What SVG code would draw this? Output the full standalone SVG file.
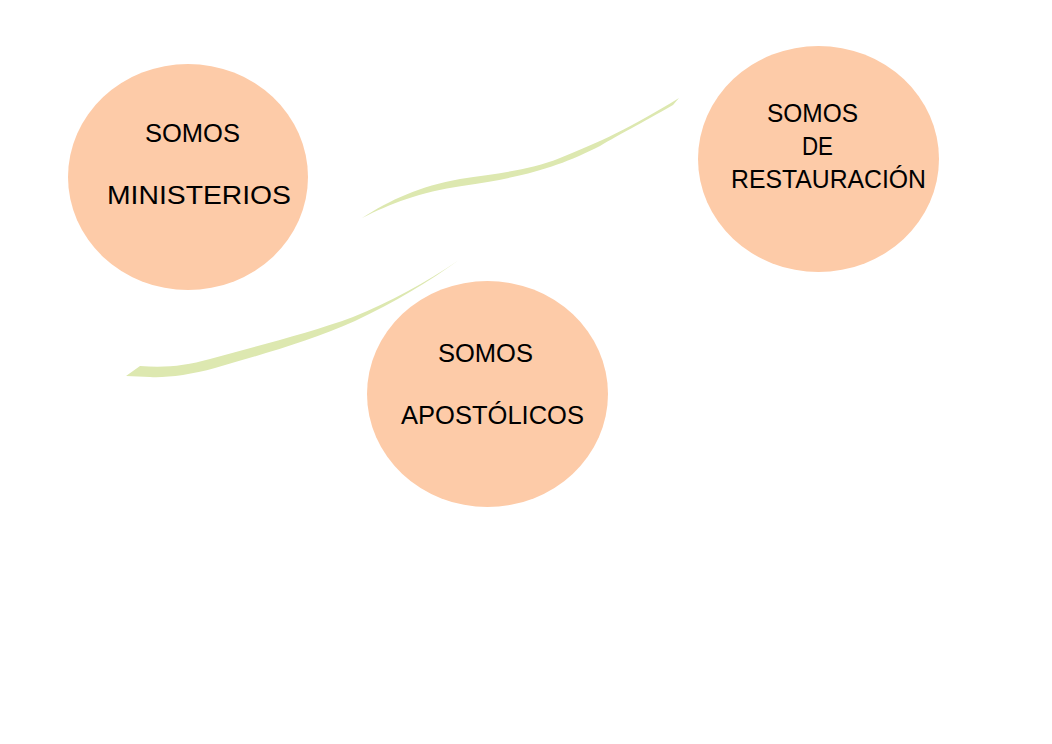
<svg xmlns="http://www.w3.org/2000/svg" width="1052" height="744" viewBox="0 0 1052 744">
<style>
.node{fill:#FDCBA8;}
.lbl{font-family:"Liberation Sans","DejaVu Sans",sans-serif;font-size:26px;fill:#000;}
.swash{fill:#DDE8B0;stroke:none;}
</style>
<rect width="1052" height="744" fill="#fff"/>
<g id="connectors">
<path class="swash" d="M362,218 C390,200 420,186 460,179 C500,173 530,170 560,158 C600,142 630,128 679,98 L673,105 C640,124 620,134 600,146 C560,166 530,176 462,186 C420,192 390,204 362,218 Z"/>
<path class="swash" d="M126,376 L140,366 C165,368 185,366 210,359 C260,345 310,333 353,317 C390,302 425,283 459,260 C430,281 395,302 355,321 C310,341 260,355 215,368 C190,375 165,378 150,377 Z"/>
</g>
<g id="node-ministerios">
<ellipse class="node" cx="188" cy="177" rx="120" ry="113"/>
<text class="lbl" x="145" y="142" textLength="95" lengthAdjust="spacingAndGlyphs">SOMOS</text>
<text class="lbl" x="107" y="204" textLength="184" lengthAdjust="spacingAndGlyphs">MINISTERIOS</text>
</g>
<g id="node-restauracion">
<ellipse class="node" cx="818.5" cy="159" rx="120.5" ry="113"/>
<text class="lbl" x="767" y="122" textLength="91" lengthAdjust="spacingAndGlyphs">SOMOS</text>
<text class="lbl" x="802" y="155" textLength="31" lengthAdjust="spacingAndGlyphs">DE</text>
<text class="lbl" x="731" y="188" textLength="195" lengthAdjust="spacingAndGlyphs">RESTAURACIÓN</text>
</g>
<g id="node-apostolicos">
<ellipse class="node" cx="487.5" cy="394" rx="120.5" ry="113"/>
<text class="lbl" x="438" y="362" textLength="95" lengthAdjust="spacingAndGlyphs">SOMOS</text>
<text class="lbl" x="401" y="424" textLength="183" lengthAdjust="spacingAndGlyphs">APOSTÓLICOS</text>
</g>
</svg>
